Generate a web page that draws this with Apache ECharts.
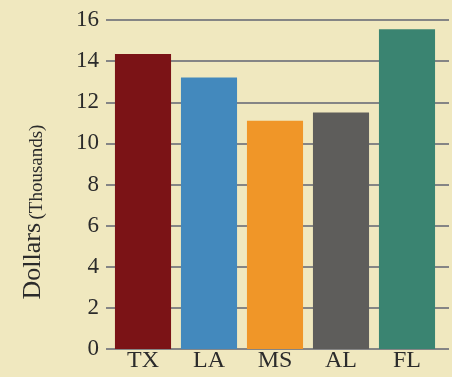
<!DOCTYPE html>
<html>
<head>
<meta charset="utf-8">
<script src="https://cdn.jsdelivr.net/npm/echarts@6/dist/echarts.min.js"></script>
<style>
html,body{margin:0;padding:0;background:#F0E8BF;}
#c{width:452px;height:377px;}
</style>
</head>
<body>
<div id="c"></div>
<script>
const categories = ['TX', 'LA', 'MS', 'AL', 'FL'];
const values = [14.35, 13.2, 11.1, 11.5, 15.55];
const barColors = ['#7B1316', '#4389BD', '#F09628', '#5E5D5B', '#3A8471'];
const yTicks = { min: 0, max: 16, interval: 2 };

const font = 'Liberation Serif';
const chart = echarts.init(document.getElementById('c'));
chart.setOption({
  backgroundColor: '#F0E8BF',
  animation: false,
  grid: [
    { left: 106, right: 3, top: 20, bottom: 28 },
    { left: 110, right: 12, top: 20, bottom: 28 }
  ],
  xAxis: [
    { gridIndex: 0, type: 'value', show: false, min: 0, max: 1 },
    {
      gridIndex: 1, type: 'category', data: categories,
      axisLine: { show: false }, axisTick: { show: false },
      axisLabel: { color: '#2b2b2b', fontFamily: font, fontSize: 24, margin: 0 }
    }
  ],
  yAxis: [
    {
      gridIndex: 0, type: 'value', min: yTicks.min, max: yTicks.max, interval: yTicks.interval,
      axisLine: { show: false }, axisTick: { show: false },
      splitLine: { show: true, lineStyle: { color: '#858585', width: 2 } },
      axisLabel: { color: '#2b2b2b', fontFamily: font, fontSize: 23, margin: 7 }
    },
    {
      gridIndex: 1, type: 'value', min: yTicks.min, max: yTicks.max, interval: yTicks.interval,
      show: false, splitLine: { show: false }
    }
  ],
  graphic: [{
    type: 'text',
    x: 33, y: 212,
    rotation: Math.PI / 2,
    style: {
      text: '{a|Dollars} {b|(Thousands)}',
      rich: {
        a: { fontFamily: font, fontSize: 26, fill: '#2b2b2b', lineHeight: 27, verticalAlign: 'bottom' },
        b: { fontFamily: font, fontSize: 19, fill: '#2b2b2b', lineHeight: 27, verticalAlign: 'bottom' }
      },
      align: 'center',
      verticalAlign: 'middle'
    }
  }],
  series: [{
    type: 'bar',
    xAxisIndex: 1, yAxisIndex: 1,
    barCategoryGap: '15%',
    data: values.map((v, i) => ({ value: v, itemStyle: { color: barColors[i] } }))
  }]
});
</script>
</body>
</html>
